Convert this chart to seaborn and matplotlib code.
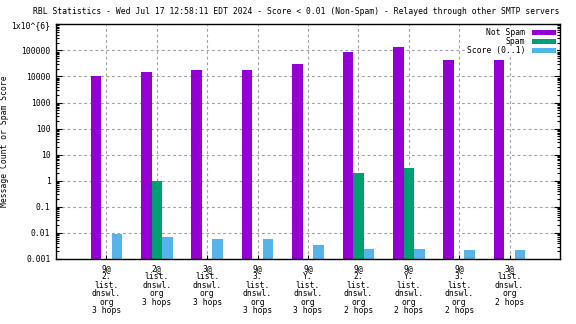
import matplotlib
matplotlib.use("Agg")
import matplotlib.pyplot as plt
import matplotlib.ticker as mticker
from matplotlib.patches import Patch
import seaborn as sns
import pandas as pd

categories = [
    "9@\n2.\nlist.\ndnswl.\norg\n3 hops",
    "2@\nlist.\ndnswl.\norg\n3 hops",
    "3@\nlist.\ndnswl.\norg\n3 hops",
    "9@\n3.\nlist.\ndnswl.\norg\n3 hops",
    "9@\nY.\nlist.\ndnswl.\norg\n3 hops",
    "9@\n2.\nlist.\ndnswl.\norg\n2 hops",
    "9@\nY.\nlist.\ndnswl.\norg\n2 hops",
    "9@\n3.\nlist.\ndnswl.\norg\n2 hops",
    "3@\nlist.\ndnswl.\norg\n2 hops",
]
not_spam = [10200, 14600, 17500, 17500, 29700, 85000, 130000, 42000, 42000]
spam = [0, 1, 0, 0, 0, 2.0, 3.2, 0, 0]
score = [0.0095, 0.0072, 0.006, 0.006, 0.0035, 0.0025, 0.0025, 0.0022, 0.0022]
series_names = ["Not Spam", "Spam", "Score (0..1)"]
colors = ["#9400D3", "#009E73", "#56B4E9"]
ytick_vals = [1e6, 1e5, 1e4, 1e3, 1e2, 1e1, 1, 0.1, 0.01, 0.001]
ytick_labels = ["1x10^{6}", "100000", "10000", "1000", "100", "10", "1", "0.1", "0.01", "0.001"]

rows = []
for i, c in enumerate(categories):
    for name, vals in zip(series_names, [not_spam, spam, score]):
        rows.append({"cat": c, "series": name, "value": vals[i]})
df = pd.DataFrame(rows)

plt.rcParams["font.family"] = ["DejaVu Sans Mono"]
fs = 5.8

fig = plt.figure(figsize=(5.76, 3.24), dpi=100)
ax = fig.add_axes([56/576, 1-259/324, (560-56)/576, (259-24.3)/324])
ax.set_yscale("log")

sns.barplot(data=df, x="cat", y="value", hue="series", order=categories,
            hue_order=series_names, palette=colors, width=0.63, gap=0,
            saturation=1, errorbar=None, ax=ax, legend=False, linewidth=0)

ax.set_xlim(-1, 9)
ax.set_ylim(0.001, 1e6)
ax.set_yticks(ytick_vals)
ax.yaxis.set_major_formatter(mticker.FixedFormatter(ytick_labels))
ax.yaxis.set_minor_locator(mticker.LogLocator(base=10, subs=range(2, 10), numticks=100))
ax.yaxis.set_minor_formatter(mticker.NullFormatter())
ax.set_xticks(range(len(categories)))
ax.set_xticklabels(categories, fontsize=fs, linespacing=0.92)
for lab in ax.get_yticklabels():
    lab.set_fontsize(fs)

ax.tick_params(axis="y", which="major", direction="in", length=4, width=0.8,
               left=True, right=True, pad=4)
ax.tick_params(axis="y", which="minor", direction="in", length=2, width=0.8,
               left=True, right=True)
ax.tick_params(axis="x", which="major", direction="in", length=3, width=0.8,
               bottom=True, top=False, pad=3.5)

ax.grid(True, which="major", color="#a0a0a0", linestyle=(0, (2.5, 2.5)), linewidth=0.8)
ax.set_axisbelow(True)
for sp in ax.spines.values():
    sp.set_color("black")
    sp.set_linewidth(1.0)

ax.set_xlabel("")
ax.set_ylabel("Message Count or Spam Score", fontsize=fs)
ax.yaxis.set_label_coords((9 - 56) / 504, 0.5)

handles = [Patch(facecolor=c, edgecolor="none") for c in colors]
leg = ax.legend(handles, series_names, loc="upper right", markerfirst=False,
                fontsize=fs, frameon=True, handlelength=3.0, handleheight=0.55,
                labelspacing=0.0, borderaxespad=0.35, borderpad=0.15,
                handletextpad=0.8)
leg.get_frame().set_facecolor("white")
leg.get_frame().set_edgecolor("none")
leg.get_frame().set_alpha(1)
for t in leg.get_texts():
    t.set_ha("right")

fig.text(296/576, 1-12/324,
         "RBL Statistics - Wed Jul 17 12:58:11 EDT 2024 - Score < 0.01 (Non-Spam) - Relayed through other SMTP servers",
         ha="center", va="center", fontsize=fs)

fig.savefig("out.png", dpi=100)
